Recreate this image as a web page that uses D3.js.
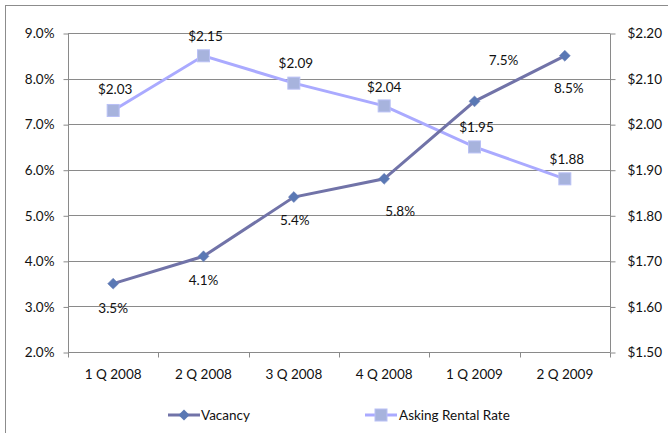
<!DOCTYPE html>
<html>
<head>
<meta charset="utf-8">
<script src="https://cdn.jsdelivr.net/npm/d3@7"></script>
<style>
  html, body { margin: 0; padding: 0; background: #fff; }
  svg text { font-family: Lato, "Open Sans", sans-serif; font-size: 13.5px; fill: #111; }
</style>
</head>
<body>
<svg id="chart" width="668" height="433"></svg>
<script>
// Quarterly vacancy rate and asking rental rate
const quarters = ["1 Q 2008", "2 Q 2008", "3 Q 2008", "4 Q 2008", "1 Q 2009", "2 Q 2009"];
const vacancy = [3.5, 4.1, 5.4, 5.8, 7.5, 8.5];            // percent
const askingRent = [2.03, 2.15, 2.09, 2.04, 1.95, 1.88];    // dollars
const vacancyTicks = [2, 3, 4, 5, 6, 7, 8, 9];
const rentTicks = [1.5, 1.6, 1.7, 1.8, 1.9, 2.0, 2.1, 2.2];

// Label placement relative to each point (dx, dy to baseline)
const vacancyLabelOffset = [[0, 29], [0, 29], [1, 28], [16, 37], [29, -36], [4, 37]];
const rentLabelOffset = [[2, -16], [2, -15], [2, -15], [0, -14], [2, -15], [2, -15]];

const svg = d3.select("#chart");
const plot = { left: 68, right: 610, top: 33, bottom: 352 };

const x = d3.scaleBand().domain(quarters).range([plot.left, plot.right]);
const yL = d3.scaleLinear().domain([2, 9]).range([plot.bottom, plot.top]);
const yR = d3.scaleLinear().domain([1.5, 2.2]).range([plot.bottom, plot.top]);
const cx = d => x(d) + x.bandwidth() / 2;

const axisColor = "#8a8a8a";

// Outer chart frame
svg.append("rect")
  .attr("x", 5.5).attr("y", 5.5).attr("width", 700).attr("height", 460)
  .attr("fill", "none").attr("stroke", "#8c8c8c").attr("stroke-width", 1);

// Horizontal gridlines
svg.append("g").selectAll("line").data(vacancyTicks.slice(1)).join("line")
  .attr("x1", plot.left).attr("x2", plot.right)
  .attr("y1", d => Math.round(yL(d)) + 0.5).attr("y2", d => Math.round(yL(d)) + 0.5)
  .attr("stroke", axisColor).attr("stroke-width", 1);

// Left axis
const leftAxis = svg.append("g")
  .attr("transform", `translate(${plot.left + 0.5},0.5)`)
  .call(d3.axisLeft(yL).tickValues(vacancyTicks).tickFormat(d => d3.format(".1f")(d) + "%").tickSize(5).tickPadding(9));
leftAxis.select(".domain").attr("stroke", axisColor).attr("d", `M0,${plot.bottom}V${plot.top}`);
leftAxis.selectAll(".tick line").attr("stroke", axisColor);
leftAxis.selectAll(".tick text").style("font-size", "13.5px").attr("fill", "#111");

// Right axis
const rightAxis = svg.append("g")
  .attr("transform", `translate(${plot.right + 0.5},0.5)`)
  .call(d3.axisRight(yR).tickValues(rentTicks).tickFormat(d => "$" + d3.format(".2f")(d)).tickSize(5).tickPadding(12));
rightAxis.select(".domain").attr("stroke", axisColor).attr("d", `M0,${plot.bottom}V${plot.top}`);
rightAxis.selectAll(".tick line").attr("stroke", axisColor);
rightAxis.selectAll(".tick text").style("font-size", "13.5px").attr("fill", "#111");

// Bottom axis with ticks at category boundaries
const bottom = svg.append("g").attr("transform", `translate(0,${plot.bottom + 0.5})`);
bottom.append("line").attr("x1", plot.left).attr("x2", plot.right)
  .attr("stroke", axisColor);
const bounds = quarters.map(q => x(q)).concat([plot.right]);
bottom.selectAll("line.tk").data(bounds).join("line").attr("class", "tk")
  .attr("x1", d => Math.round(d) + 0.5).attr("x2", d => Math.round(d) + 0.5)
  .attr("y1", 0).attr("y2", 5).attr("stroke", axisColor);
bottom.selectAll("text").data(quarters).join("text")
  .attr("x", d => cx(d)).attr("y", 26)
  .attr("text-anchor", "middle").text(d => d);

// Lines
const vacLine = d3.line().x((d, i) => cx(quarters[i])).y(d => yL(d));
const rentLine = d3.line().x((d, i) => cx(quarters[i])).y(d => yR(d));

svg.append("path").datum(askingRent).attr("d", rentLine)
  .attr("fill", "none").attr("stroke", "#aaaaff").attr("stroke-width", 3);
svg.append("path").datum(vacancy).attr("d", vacLine)
  .attr("fill", "none").attr("stroke", "#7173a8").attr("stroke-width", 3);

// Markers
svg.append("g").selectAll("rect").data(askingRent).join("rect")
  .attr("x", (d, i) => cx(quarters[i]) - 6).attr("y", d => yR(d) - 6)
  .attr("width", 12).attr("height", 12)
  .attr("fill", "#a7b3dd").attr("stroke", "#b9c0f5").attr("stroke-width", 1);
svg.append("g").selectAll("path").data(vacancy).join("path")
  .attr("transform", (d, i) => `translate(${cx(quarters[i])},${yL(d)}) rotate(45)`)
  .attr("d", d3.symbol().type(d3.symbolSquare).size(60))
  .attr("fill", "#5a78b4").attr("stroke", "#6a7fb8").attr("stroke-width", 0.5);

// Data labels
svg.append("g").selectAll("text").data(vacancy).join("text")
  .attr("x", (d, i) => cx(quarters[i]) + vacancyLabelOffset[i][0])
  .attr("y", (d, i) => yL(d) + vacancyLabelOffset[i][1])
  .attr("text-anchor", "middle").text(d => d3.format(".1f")(d) + "%");
svg.append("g").selectAll("text").data(askingRent).join("text")
  .attr("x", (d, i) => cx(quarters[i]) + rentLabelOffset[i][0])
  .attr("y", (d, i) => yR(d) + rentLabelOffset[i][1])
  .attr("text-anchor", "middle").text(d => "$" + d3.format(".2f")(d));

// Legend
const legend = svg.append("g").attr("transform", "translate(0,415)");
legend.append("line").attr("x1", 168).attr("x2", 200).attr("y1", 0).attr("y2", 0)
  .attr("stroke", "#7173a8").attr("stroke-width", 3);
legend.append("path").attr("transform", "translate(184,0) rotate(45)")
  .attr("d", d3.symbol().type(d3.symbolSquare).size(60)).attr("fill", "#5a78b4");
legend.append("text").attr("x", 201).attr("y", 5).text("Vacancy");
legend.append("line").attr("x1", 365).attr("x2", 397).attr("y1", 0).attr("y2", 0)
  .attr("stroke", "#aaaaff").attr("stroke-width", 3);
legend.append("rect").attr("x", 375).attr("y", -6).attr("width", 12).attr("height", 12)
  .attr("fill", "#a7b3dd").attr("stroke", "#b9c0f5");
legend.append("text").attr("x", 399).attr("y", 5).text("Asking Rental Rate");
</script>
</body>
</html>
